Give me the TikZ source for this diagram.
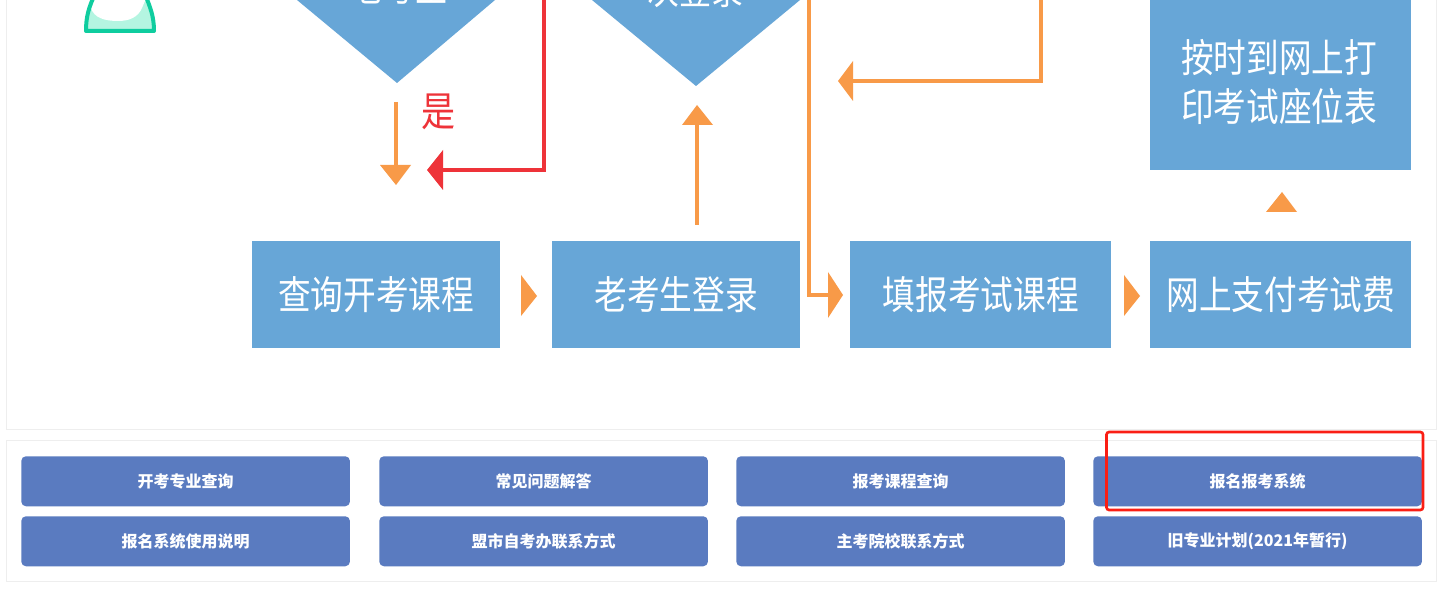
\documentclass[tikz,border=0pt]{standalone}
\usepackage{fontspec}
\setmainfont{Noto Sans CJK SC}
\newfontfamily\cjkbold[BoldFont={Noto Sans CJK SC Bold}]{Noto Sans CJK SC}
\newcommand{\tall}[1]{\scalebox{1}[1.2]{#1}}
\definecolor{flowblue}{HTML}{67A6D7}
\definecolor{flowor}{HTML}{F89A48}
\definecolor{flowred}{HTML}{EE3339}
\definecolor{btnblue}{HTML}{5A7BC0}
\definecolor{panelgrey}{HTML}{EEEEEE}
\definecolor{mintline}{HTML}{0FCD9F}
\definecolor{mintfill}{HTML}{B4F5E1}
\definecolor{markred}{HTML}{FA1E14}
\tikzset{
  flowbox/.style={fill=flowblue,inner sep=0pt,text=white,font=\fontsize{24.5pt}{30pt}\selectfont,align=center,anchor=north west},
  btn/.style={fill=btnblue,rounded corners=3.5pt,inner sep=0pt,text=white,font=\fontsize{12pt}{14pt}\selectfont\bfseries,
    minimum width=246.5pt,minimum height=37.5pt,anchor=north west},
  orline/.style={draw=flowor,line width=3pt},
  redline/.style={draw=flowred,line width=3.2pt},
  orhead/.style={fill=flowor},
  redhead/.style={fill=flowred},
  panel/.style={draw=panelgrey,line width=0.75pt},
  difftext/.style={text=white,inner sep=0pt,font=\fontsize{24pt}{30pt}\selectfont}
}
\begin{document}
\begin{tikzpicture}[x=0.75pt,y=-0.75pt]
\useasboundingbox (0,0) rectangle (1446,595);
\fill[white] (0,0) rectangle (1446,595);
\clip (0,0) rectangle (1446,595);
% panels
\draw[panel] (6.5,-10) rectangle (1436.5,429.5);
\draw[panel] (6.5,440.5) rectangle (1436.5,581.5);
% person icon
\fill[mintfill] (86,31) .. controls (86,16) and (89,7) .. (95,-6) -- (145,-6) .. controls (150,7) and (154,16) .. (154,31) -- cycle;
\fill[white] (92,-6) -- (91,8) .. controls (94,18) and (105,21) .. (118,21) .. controls (130,21) and (138,17) .. (142,8) -- (148,-6) -- cycle;
\draw[draw=mintline,line width=3pt,line join=round] (95,-6) .. controls (89,7) and (86,16) .. (86,31) -- (154,31) .. controls (154,16) and (150,7) .. (145,-6);
% decisions
\fill[flowblue] (297,0) -- (397,83) -- (495,0) -- (495,-5) -- (297,-5) -- cycle;
\fill[flowblue] (592,0) -- (696,86) -- (800,0) -- (800,-5) -- (592,-5) -- cycle;
\node[difftext] (d1) at (399,-13) {\tall{老考生}};
\node[difftext] (d2) at (695,-10) {\tall{次登录}};
% boxes
\node[flowbox,minimum width=186pt,minimum height=80.25pt] (b1) at (252,241) {\tall{查询开考课程}};
\node[flowbox,minimum width=186pt,minimum height=80.25pt] (b2) at (552,241) {\tall{老考生登录}};
\node[flowbox,minimum width=195.75pt,minimum height=80.25pt] (b3) at (850,241) {\tall{填报考试课程}};
\node[flowbox,minimum width=195.75pt,minimum height=80.25pt] (b4) at (1150,241) {\tall{网上支付考试费}};
\fill[flowblue] (1150,-5) rectangle (1411,170);
\node[text=white,inner sep=0pt,align=center,font=\fontsize{24.5pt}{37pt}\selectfont] (b5) at (1279,82) {\tall{按时到网上打}\\\tall{印考试座位表}};
% free ends of connectors
\coordinate (a1) at (396,102); \coordinate (a2) at (396,168);
\coordinate (r0) at (544,-5); \coordinate (r1) at (544,170); \coordinate (r2) at (441,170);
\coordinate (u1) at (697,225); \coordinate (u2) at (697,122);
\coordinate (l0) at (809,-5); \coordinate (l1) at (809,295); \coordinate (l2) at (830,295);
\coordinate (m0) at (1041,-5); \coordinate (m1) at (1041,81); \coordinate (m2) at (851,81);
% connectors
\draw[orline] (a1) -- (a2);
\fill[orhead] (380,165) -- (411,165) -- (396,185) -- cycle;
\draw[redline,line join=miter] (r0) -- (r1) -- (r2);
\fill[redhead] (443,150) -- (443,190) -- (427,170) -- cycle;
\draw[orline] (u1) -- (u2);
\fill[orhead] (682,125) -- (713,125) -- (697,105) -- cycle;
\draw[orline] (l0) -- (l1) -- (l2);
\fill[orhead] (828,272) -- (828,318) -- (843,295) -- cycle;
\draw[orline] (m0) -- (m1) -- (m2);
\fill[orhead] (853,61) -- (853,101) -- (838,81) -- cycle;
% chevrons
\fill[orhead] (521,275) -- (521,316) -- (537,296) -- cycle;
\fill[orhead] (1124,275) -- (1124,316) -- (1140,296) -- cycle;
\fill[orhead] (1266,212) -- (1297,212) -- (1282,192) -- cycle;
\node[text=flowred,inner sep=0pt,font=\fontsize{25.5pt}{30pt}\selectfont] (yes) at (438,112) {\tall{是}};
% buttons
\node[btn] (k1) at (21,456) {开考专业查询};
\node[btn] (k2) at (379,456) {常见问题解答};
\node[btn] (k3) at (736,456) {报考课程查询};
\node[btn] (k4) at (1093,456) {报名报考系统};
\node[btn] (k5) at (21,516) {报名系统使用说明};
\node[btn] (k6) at (379,516) {盟市自考办联系方式};
\node[btn] (k7) at (736,516) {主考院校联系方式};
\node[btn] (k8) at (1093,516) {旧专业计划(2021年暂行)};
% highlight
\draw[draw=markred,line width=2pt,rounded corners=2pt] (1106.5,432) rectangle (1423,510);
\end{tikzpicture}
\end{document}
